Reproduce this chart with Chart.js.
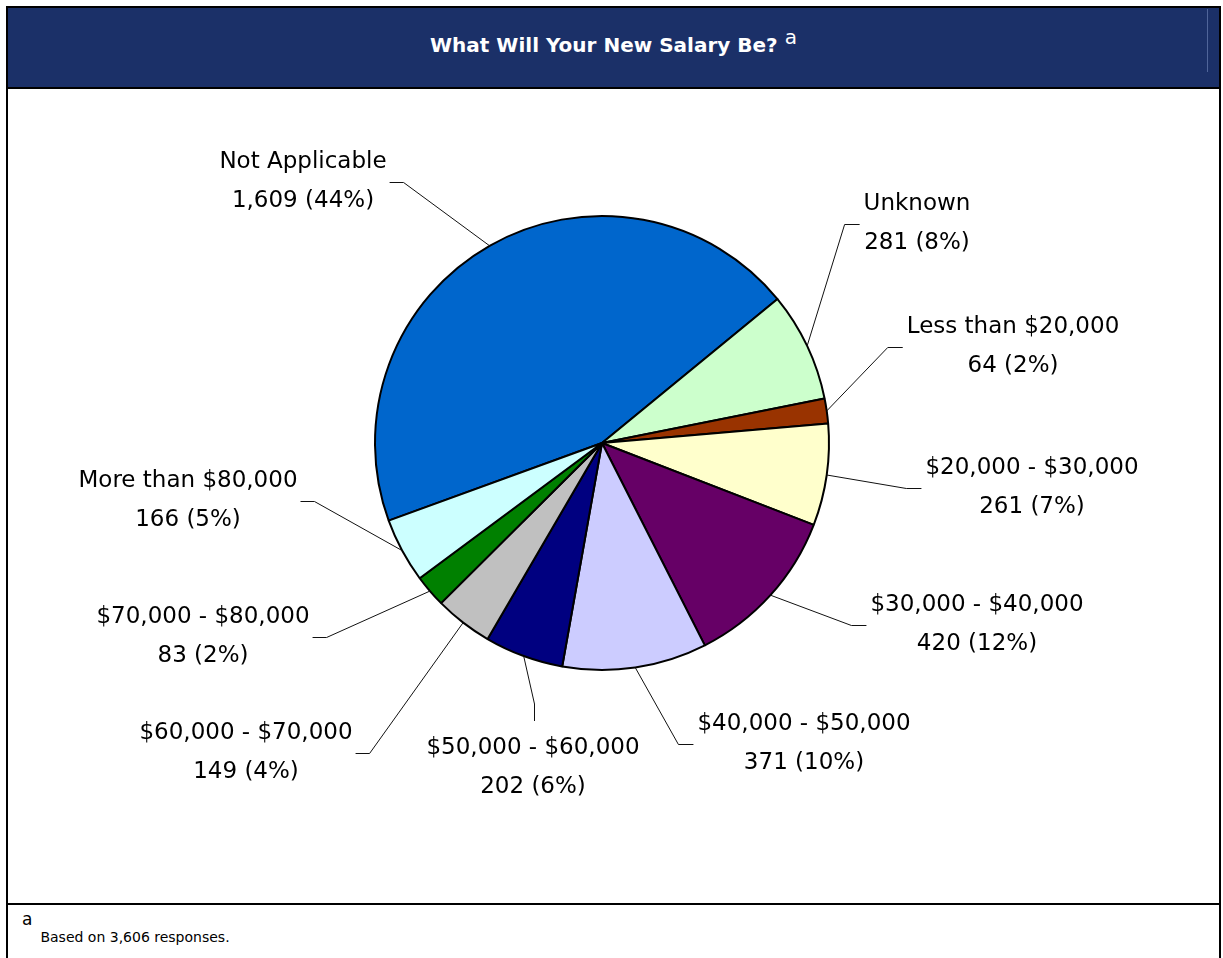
<!DOCTYPE html>
<html>
<head>
<meta charset="utf-8">
<title>What Will Your New Salary Be?</title>
<script src="https://cdn.jsdelivr.net/npm/chart.js@4.4.0/dist/chart.umd.min.js"></script>
<style>
  html, body { margin: 0; padding: 0; background: #fff; }
  body { width: 1223px; height: 958px; position: relative; overflow: hidden; font-family: "DejaVu Sans", Verdana, sans-serif; }
  #frame { position: absolute; left: 6px; top: 6px; width: 1215px; height: 960px; border: 2px solid #000; border-bottom: none; box-sizing: border-box; }
  #header { position: absolute; left: 8px; top: 8px; width: 1211px; height: 79px; background: #1b3068; border-bottom: 2px solid #000; }
  #header .glint { position: absolute; left: 1199px; top: 1px; width: 1px; height: 63px; background: #50659a; }
  #title { position: absolute; left: 0; top: 0; width: 100%; height: 74px; display: flex; align-items: center; justify-content: center; color: #fff; font-weight: bold; font-size: 20px; }
  #title sup { font-size: 20px; font-weight: normal; position: relative; top: -8px; margin-left: 7px; }
  #chart-box { position: absolute; left: 8px; top: 89px; width: 1211px; height: 814px; }
  #footer-line { position: absolute; left: 8px; top: 903px; width: 1211px; height: 2px; background: #000; }
  #note { position: absolute; left: 22px; top: 907px; font-size: 14px; color: #000; }
  #note .mark { font-size: 17px; position: relative; top: 2px; }
  #note .txt { position: relative; top: 19px; left: 8px; }
</style>
</head>
<body>
<div id="frame"></div>
<div id="header"><div class="glint"></div><div id="title">What Will Your New Salary Be?<sup>a</sup></div></div>
<div id="chart-box"><canvas id="salary-chart"></canvas></div>
<div id="footer-line"></div>
<div id="note"><span class="mark">a</span><span class="txt">Based on 3,606 responses.</span></div>

<script>
// Data
const categories = ['Not Applicable', 'Unknown', 'Less than $20,000', '$20,000 - $30,000', '$30,000 - $40,000',
  '$40,000 - $50,000', '$50,000 - $60,000', '$60,000 - $70,000', '$70,000 - $80,000', 'More than $80,000'];
const counts = [1609, 281, 64, 261, 420, 371, 202, 149, 83, 166];
const percents = [44, 8, 2, 7, 12, 10, 6, 4, 2, 5];

// Styles
const sliceColors = ['#0066cc', '#ccffcc', '#993300', '#ffffcc', '#660066',
  '#ccccff', '#000080', '#c0c0c0', '#008000', '#ccffff'];

// Label placement: first line centre, relative to pie centre; side = where label sits
const labelPos = [
  { dx: -299, dy: -281, side: 'L' },
  { dx: 315, dy: -239, side: 'R' },
  { dx: 411, dy: -116, side: 'R' },
  { dx: 430, dy: 25, side: 'R' },
  { dx: 375, dy: 162, side: 'R' },
  { dx: 202, dy: 281, side: 'R' },
  { dx: -69, dy: 305, side: 'B' },
  { dx: -356, dy: 290, side: 'L' },
  { dx: -399, dy: 174, side: 'L' },
  { dx: -414, dy: 38, side: 'L' }
];
const LINE_H = 39;

// Draw labels with leader lines from each slice's mid-angle
const leaderLabels = {
  id: 'leaderLabels',
  afterDatasetsDraw(chart) {
    const ctx = chart.ctx;
    const meta = chart.getDatasetMeta(0);
    ctx.save();
    ctx.font = '23px "DejaVu Sans"';
    ctx.fillStyle = '#000';
    ctx.strokeStyle = '#111';
    ctx.lineWidth = 1;
    ctx.textAlign = 'center';
    ctx.textBaseline = 'middle';
    meta.data.forEach((arc, i) => {
      const p = arc.getProps(['x', 'y', 'startAngle', 'endAngle', 'outerRadius'], true);
      const mid = (p.startAngle + p.endAngle) / 2;
      const ax = p.x + Math.cos(mid) * p.outerRadius;
      const ay = p.y + Math.sin(mid) * p.outerRadius;
      const pos = labelPos[i];
      const cx = p.x + pos.dx, cy = p.y + pos.dy;
      const lines = [categories[i], counts[i].toLocaleString('en-US') + ' (' + percents[i] + '%)'];
      const w = Math.max(...lines.map(l => ctx.measureText(l).width));
      const midY = Math.round(cy + LINE_H / 2) + 0.5;
      let ex, ey, bx, by;
      if (pos.side === 'L') { ex = cx + w / 2 + 3; ey = midY; bx = ex + 14; by = midY; }
      else if (pos.side === 'R') { ex = cx - w / 2 - 4; ey = midY; bx = ex - 15; by = midY; }
      else { ex = Math.round(cx + 1) + 0.5; ey = cy - 27; bx = ex; by = ey - 17; }
      ctx.beginPath();
      ctx.moveTo(ax, ay);
      ctx.lineTo(bx, by);
      ctx.lineTo(ex, ey);
      ctx.stroke();
      lines.forEach((l, k) => ctx.fillText(l, cx, cy + k * LINE_H));
    });
    ctx.restore();
  }
};

new Chart(document.getElementById('salary-chart'), {
  type: 'pie',
  data: {
    labels: categories,
    datasets: [{
      data: counts,
      backgroundColor: sliceColors,
      borderColor: '#000',
      borderWidth: 2
    }]
  },
  options: {
    responsive: true,
    maintainAspectRatio: false,
    animation: false,
    rotation: 250,
    layout: { padding: { left: 0, right: 23, top: 126, bottom: 232 } },
    plugins: { legend: { display: false }, tooltip: { enabled: false } }
  },
  plugins: [leaderLabels]
});
</script>
</body>
</html>
